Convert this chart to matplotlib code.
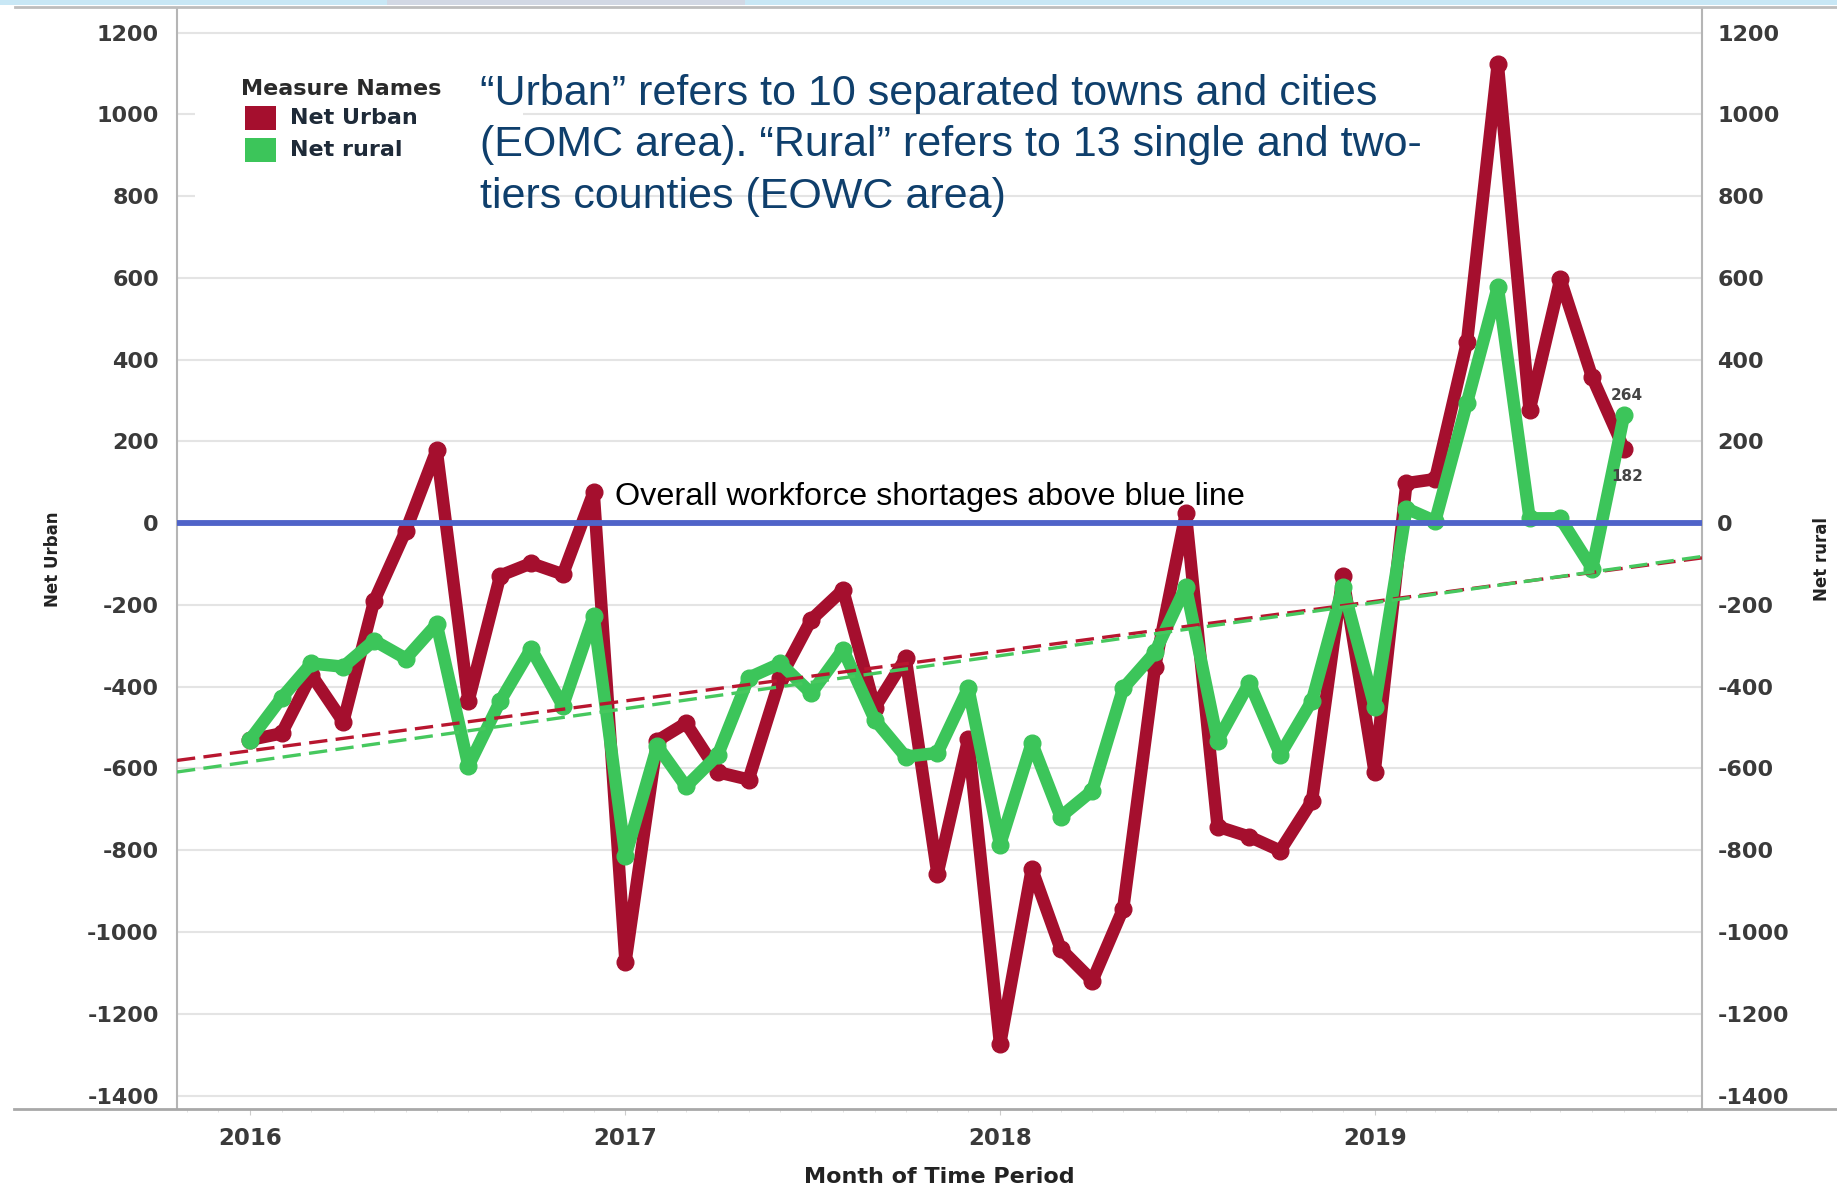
import matplotlib
matplotlib.use('Agg')
import matplotlib.pyplot as plt
import matplotlib.dates as mdates
from matplotlib.patches import Rectangle
from matplotlib.lines import Line2D
import numpy as np
import pandas as pd

plt.rcParams['axes.unicode_minus'] = False

# ---------------- data ----------------
months = pd.date_range('2016-01-01', periods=45, freq='MS')
net_urban = [-530, -514, -371, -486, -191, -18, 179, -435, -128, -98, -125, 76,
             -1073, -532, -489, -609, -627, -378, -236, -163, -451, -330, -858, -528,
             -1275, -845, -1041, -1119, -943, -351, 24, -742, -767, -801, -679, -128,
             -609, 98, 108, 443, 1124, 277, 597, 357, 182]
net_rural = [-530, -427, -343, -351, -287, -331, -247, -594, -435, -307, -447, -227,
             -815, -545, -644, -567, -378, -343, -416, -309, -481, -571, -562, -403,
             -786, -537, -718, -654, -404, -316, -155, -532, -390, -566, -434, -155,
             -449, 36, 5, 295, 578, 12, 12, -111, 264]
y_ticks = list(range(-1400, 1201, 200))
series_names = ['Net Urban', 'Net rural']
legend_title = 'Measure Names'
note_lines = ['\u201cUrban\u201d refers to 10 separated towns and cities',
              '(EOMC area). \u201cRural\u201d refers to 13 single and two-',
              'tiers counties (EOWC area)']
shortage_note = 'Overall workforce shortages above blue line'

RED = '#A50F2E'
GREEN = '#3CC55A'
BLUE = '#4F63C8'
NAVY = '#0F3F6C'
TICKC = '#3a3a3a'

W, H = 1837, 1186
fig = plt.figure(figsize=(W / 100, H / 100), dpi=100)


def fx(px):
    return px / W


def fy(py):
    return 1 - py / H


ax_top, ax_bot, ax_l, ax_r = 9, 1109, 177, 1702
ax = fig.add_axes([fx(ax_l), fy(ax_bot), fx(ax_r) - fx(ax_l), (ax_bot - ax_top) / H])
ax2 = ax.twinx()

ylim = (-1433, 1258)
xlim = (pd.Timestamp('2015-10-22'), pd.Timestamp('2019-11-16'))
for a in (ax, ax2):
    a.set_ylim(*ylim)
    a.set_yticks(y_ticks)
    a.set_xlim(*xlim)

# grid
ax.set_axisbelow(True)
ax.yaxis.grid(True, color='#E4E4E4', lw=1.5)
ax.xaxis.grid(False)

# white legend background hiding grid
ax.add_patch(Rectangle((fx(195), fy(250)), fx(523) - fx(195), (250 - 62) / H,
                       transform=fig.transFigure, facecolor='white', edgecolor='none', zorder=1))

# data lines
ax.plot(months, net_urban, color=RED, lw=9, marker='o', ms=12, solid_joinstyle='round',
        solid_capstyle='round', zorder=3)
ax2.plot(months, net_rural, color=GREEN, lw=9, marker='o', ms=12, solid_joinstyle='round',
         solid_capstyle='round', zorder=3)

# zero reference line
ax2.axhline(0, color=BLUE, lw=4.2, zorder=5)

# trend lines (linear regression)
xn = mdates.date2num(months)
xl = np.array([mdates.date2num(xlim[0]), mdates.date2num(xlim[1])])
cu = np.polyfit(xn, net_urban, 1)
cr = np.polyfit(xn, net_rural, 1)
ax2.plot(xl, np.polyval(cu, xl), color='#B8162F', lw=2.4, dashes=(5.5, 2.5), zorder=6)
ax2.plot(xl, np.polyval(cr, xl), color='#46C85E', lw=2.4, dashes=(5.5, 2.5), zorder=6)

# data labels at the end
ax2.annotate(str(net_rural[-1]), (months[-1], net_rural[-1]), xytext=(2, 14),
             textcoords='offset points', ha='center', va='center', fontsize=11,
             fontweight='bold', color='#444444', zorder=7)
ax2.annotate(str(net_urban[-1]), (months[-1], net_urban[-1]), xytext=(2, -20),
             textcoords='offset points', ha='center', va='center', fontsize=11,
             fontweight='bold', color='#444444', zorder=7)

# spines
for a in (ax, ax2):
    for s in a.spines.values():
        s.set_visible(False)
ax.spines['left'].set_visible(True)
ax.spines['left'].set_color('#B5B5B5')
ax.spines['left'].set_linewidth(1.5)
ax2.spines['right'].set_visible(True)
ax2.spines['right'].set_color('#B5B5B5')
ax2.spines['right'].set_linewidth(1.5)

# ticks
ax.tick_params(axis='y', length=0, pad=13, labelsize=16, labelcolor=TICKC)
ax2.tick_params(axis='y', length=0, pad=11, labelsize=16, labelcolor=TICKC)
ax.xaxis.set_major_locator(mdates.YearLocator())
ax.xaxis.set_major_formatter(mdates.DateFormatter('%Y'))
ax.xaxis.set_minor_locator(mdates.MonthLocator())
ax.tick_params(axis='x', which='major', length=4, color='#CCCCCC', pad=9, labelsize=16.5,
               labelcolor=TICKC)
ax.tick_params(axis='x', which='minor', length=2.5, color='#DDDDDD')
ax2.tick_params(axis='x', which='both', bottom=False, labelbottom=False)
for lbl in ax.get_yticklabels() + ax2.get_yticklabels() + ax.get_xticklabels():
    lbl.set_fontweight('bold')

# axis titles
ax.set_ylabel('Net Urban', fontsize=12, fontweight='bold', color='#222222')
ax.yaxis.set_label_coords((62 - ax_l) / (ax_r - ax_l), 0.5)
ax2.set_ylabel('Net rural', fontsize=12, fontweight='bold', color='#222222', rotation=90)
ax2.yaxis.set_label_coords((1813 - ax_l) / (ax_r - ax_l), 0.5)
ax.set_xlabel('Month of Time Period', fontsize=16, fontweight='bold', color='#222222',
              labelpad=12)

# bottom axis line extending across figure
fig.add_artist(Line2D([fx(14), 1.0], [fy(ax_bot), fy(ax_bot)], color='#A8A8A8', lw=2))
# slide decoration at top
fig.add_artist(Rectangle((0, fy(5)), 1, 5 / H, transform=fig.transFigure,
                         facecolor='#C8E7F5', edgecolor='none'))
fig.add_artist(Rectangle((fx(387), fy(5)), fx(745) - fx(387), 5 / H, transform=fig.transFigure,
                         facecolor='#D2D8E4', edgecolor='none'))
fig.add_artist(Line2D([fx(15), 1.0], [fy(7), fy(7)], color='#BDBDBD', lw=2))

# legend (manual)
fig.text(fx(241), fy(89), legend_title, fontsize=16, fontweight='bold', color='#2a2a2a',
         ha='left', va='center')
for (name, col, yc) in [(series_names[0], RED, 118), (series_names[1], GREEN, 150)]:
    fig.add_artist(Rectangle((fx(245), fy(yc + 12)), fx(276) - fx(245), 24 / H,
                             transform=fig.transFigure, facecolor=col, edgecolor='none'))
    fig.text(fx(290), fy(yc), name, fontsize=16, fontweight='bold', color='#1E2A38',
             ha='left', va='center')

# annotation texts
note_font = ['Liberation Sans', 'DejaVu Sans']
for line, yc in zip(note_lines, [94, 145, 197]):
    fig.text(fx(480), fy(yc), line, fontsize=31, color=NAVY, family=note_font,
             ha='left', va='center')
fig.text(fx(615), fy(497), shortage_note, fontsize=23.3, color='black', family=note_font,
         ha='left', va='center')

fig.savefig('out.png', dpi=100)
